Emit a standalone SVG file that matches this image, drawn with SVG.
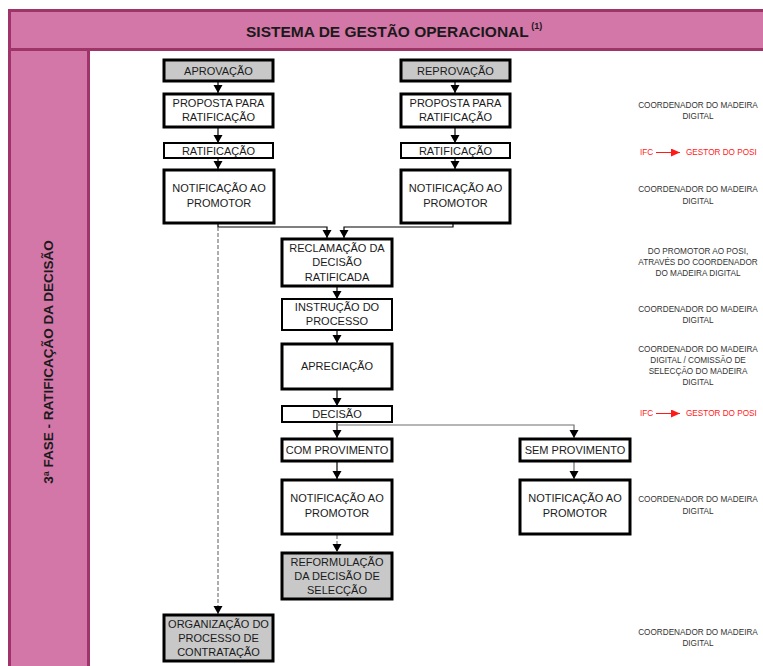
<svg xmlns="http://www.w3.org/2000/svg" width="763" height="666" viewBox="0 0 763 666">
  <style>
    .frame { fill: #D376A8; stroke: #9E3468; stroke-width: 3; }
    .box { fill: #FFFFFF; stroke: #000000; stroke-width: 3; }
    .thin { stroke-width: 2; }
    .grey { fill: #C8C8C8; }
    .lbl { font-family: "Liberation Sans", Arial, sans-serif; font-size: 11px; fill: #1A1A1A; text-anchor: middle; }
    .note { font-family: "Liberation Sans", Arial, sans-serif; font-size: 8.2px; fill: #333333; text-anchor: middle; }
    .red { font-family: "Liberation Sans", Arial, sans-serif; font-size: 8.2px; fill: #FF1A1A; }
    .title { font-family: "Liberation Sans", Arial, sans-serif; font-weight: bold; fill: #1A1A1A; }
    .wire { fill: none; stroke: #000000; stroke-width: 1.2; }
    .wire-grey { fill: none; stroke: #6E6E6E; stroke-width: 1.2; }
    .dash { fill: none; stroke: #777777; stroke-width: 1.2; stroke-dasharray: 4 2; }
  </style>
  <defs>
    <marker id="head" markerUnits="userSpaceOnUse" markerWidth="10" markerHeight="10" refX="8" refY="4.5" orient="auto">
      <path d="M0,0 L8,4.5 L0,9 Z" fill="#000000"/>
    </marker>
    <marker id="head-red" markerUnits="userSpaceOnUse" markerWidth="10" markerHeight="8" refX="9" refY="4" orient="auto">
      <path d="M0,0 L9,4 L0,8 Z" fill="#FF1A1A"/>
    </marker>
  </defs>

  <!-- background frame: header band and side column -->
  <rect x="0" y="0" width="763" height="666" fill="#FFFFFF"/>
  <rect class="frame" x="9.5" y="10.5" width="760" height="39"/>
  <rect class="frame" x="9.5" y="49.5" width="79" height="620"/>
  <text class="title" x="246" y="37" font-size="15.5">SISTEMA DE GESTÃO OPERACIONAL<tspan font-size="9" dy="-8"> (1)</tspan></text>
  <text class="title" font-size="13.5" text-anchor="middle" transform="translate(53,362) rotate(-90)">3ª FASE - RATIFICAÇÃO DA DECISÃO</text>

  <!-- connectors -->
  <g id="connectors">
    <path class="wire" d="M218,81 V93" marker-end="url(#head)"/>
    <path class="wire" d="M218,127 V143" marker-end="url(#head)"/>
    <path class="wire" d="M218,158 V169" marker-end="url(#head)"/>
    <path class="wire" d="M455,81 V93" marker-end="url(#head)"/>
    <path class="wire" d="M455,127 V143" marker-end="url(#head)"/>
    <path class="wire" d="M455,158 V169" marker-end="url(#head)"/>
    <path class="wire" d="M218,223 V227 H327 V238" marker-end="url(#head)"/>
    <path class="wire" d="M453,223 V227 H344 V238" marker-end="url(#head)"/>
    <path class="dash" d="M218,227 V614" marker-end="url(#head)"/>
    <path class="wire" d="M337,286 V299" marker-end="url(#head)"/>
    <path class="wire" d="M337,330 V343" marker-end="url(#head)"/>
    <path class="wire" d="M337,389 V406" marker-end="url(#head)"/>
    <path class="wire" d="M337,422 V438" marker-end="url(#head)"/>
    <path class="wire-grey" d="M337,425 H574 V438" marker-end="url(#head)"/>
    <path class="wire" d="M337,461 V479" marker-end="url(#head)"/>
    <path class="wire-grey" d="M574,461 V479" marker-end="url(#head)"/>
    <path class="dash" d="M337,535 V552" marker-end="url(#head)"/>
  </g>

  <!-- left branch -->
  <g id="aprovacao">
    <rect class="box grey" x="164" y="60" width="109" height="21"/>
    <text class="lbl" x="218.5" y="75">APROVAÇÃO</text>
  </g>
  <g id="proposta-a">
    <rect class="box" x="164" y="94" width="109" height="33"/>
    <text class="lbl" x="218.5" y="107">PROPOSTA PARA</text>
    <text class="lbl" x="218.5" y="121">RATIFICAÇÃO</text>
  </g>
  <g id="ratificacao-a">
    <rect class="box thin" x="164" y="143" width="109" height="15"/>
    <text class="lbl" x="218.5" y="155">RATIFICAÇÃO</text>
  </g>
  <g id="notificacao-a">
    <rect class="box" x="164" y="170" width="110" height="53"/>
    <text class="lbl" x="219" y="192">NOTIFICAÇÃO AO</text>
    <text class="lbl" x="219" y="207">PROMOTOR</text>
  </g>

  <!-- right branch -->
  <g id="reprovacao">
    <rect class="box grey" x="401" y="60" width="109" height="21"/>
    <text class="lbl" x="455.5" y="75">REPROVAÇÃO</text>
  </g>
  <g id="proposta-r">
    <rect class="box" x="401" y="94" width="109" height="33"/>
    <text class="lbl" x="455.5" y="107">PROPOSTA PARA</text>
    <text class="lbl" x="455.5" y="121">RATIFICAÇÃO</text>
  </g>
  <g id="ratificacao-r">
    <rect class="box thin" x="401" y="143" width="109" height="15"/>
    <text class="lbl" x="455.5" y="155">RATIFICAÇÃO</text>
  </g>
  <g id="notificacao-r">
    <rect class="box" x="401" y="170" width="109" height="53"/>
    <text class="lbl" x="455.5" y="192">NOTIFICAÇÃO AO</text>
    <text class="lbl" x="455.5" y="207">PROMOTOR</text>
  </g>

  <!-- central column -->
  <g id="reclamacao">
    <rect class="box" x="282" y="239" width="110" height="47"/>
    <text class="lbl" x="337" y="252">RECLAMAÇÃO DA</text>
    <text class="lbl" x="337" y="266">DECISÃO</text>
    <text class="lbl" x="337" y="281">RATIFICADA</text>
  </g>
  <g id="instrucao">
    <rect class="box thin" x="282" y="299" width="110" height="31"/>
    <text class="lbl" x="337" y="311">INSTRUÇÃO DO</text>
    <text class="lbl" x="337" y="325">PROCESSO</text>
  </g>
  <g id="apreciacao">
    <rect class="box" x="282" y="344" width="110" height="45"/>
    <text class="lbl" x="337" y="370">APRECIAÇÃO</text>
  </g>
  <g id="decisao">
    <rect class="box thin" x="282" y="406" width="110" height="16"/>
    <text class="lbl" x="337" y="418">DECISÃO</text>
  </g>
  <g id="com-provimento">
    <rect class="box" x="282" y="439" width="110" height="22"/>
    <text class="lbl" x="337" y="454">COM PROVIMENTO</text>
  </g>
  <g id="notificacao-com">
    <rect class="box" x="282" y="480" width="110" height="54"/>
    <text class="lbl" x="337" y="502">NOTIFICAÇÃO AO</text>
    <text class="lbl" x="337" y="517">PROMOTOR</text>
  </g>
  <g id="reformulacao">
    <rect class="box grey" x="282" y="553" width="110" height="46"/>
    <text class="lbl" x="337" y="566">REFORMULAÇÃO</text>
    <text class="lbl" x="337" y="580">DA DECISÃO DE</text>
    <text class="lbl" x="337" y="594">SELECÇÃO</text>
  </g>
  <g id="sem-provimento">
    <rect class="box" x="520" y="439" width="110" height="22"/>
    <text class="lbl" x="575" y="454">SEM PROVIMENTO</text>
  </g>
  <g id="notificacao-sem">
    <rect class="box" x="520" y="480" width="110" height="54"/>
    <text class="lbl" x="575" y="502">NOTIFICAÇÃO AO</text>
    <text class="lbl" x="575" y="517">PROMOTOR</text>
  </g>
  <g id="organizacao">
    <rect class="box grey" x="164" y="615" width="109" height="46"/>
    <text class="lbl" x="218.5" y="628">ORGANIZAÇÃO DO</text>
    <text class="lbl" x="218.5" y="642">PROCESSO DE</text>
    <text class="lbl" x="218.5" y="656">CONTRATAÇÃO</text>
  </g>

  <!-- responsibility notes -->
  <g id="notes">
    <text class="note" x="698" y="108">COORDENADOR DO MADEIRA</text>
    <text class="note" x="698" y="119">DIGITAL</text>

    <text class="red" x="640" y="155">IFC</text>
    <path d="M656,152.5 H680" stroke="#FF1A1A" stroke-width="1" marker-end="url(#head-red)"/>
    <text class="red" x="686" y="155">GESTOR DO POSI</text>

    <text class="note" x="698" y="192">COORDENADOR DO MADEIRA</text>
    <text class="note" x="698" y="204">DIGITAL</text>

    <text class="note" x="698" y="254">DO PROMOTOR AO POSI,</text>
    <text class="note" x="698" y="265">ATRAVÉS DO COORDENADOR</text>
    <text class="note" x="698" y="276">DO MADEIRA DIGITAL</text>

    <text class="note" x="698" y="312">COORDENADOR DO MADEIRA</text>
    <text class="note" x="698" y="323">DIGITAL</text>

    <text class="note" x="698" y="352">COORDENADOR DO MADEIRA</text>
    <text class="note" x="698" y="363">DIGITAL / COMISSÃO DE</text>
    <text class="note" x="698" y="374">SELECÇÃO DO MADEIRA</text>
    <text class="note" x="698" y="385">DIGITAL</text>

    <text class="red" x="640" y="416">IFC</text>
    <path d="M656,413.5 H680" stroke="#FF1A1A" stroke-width="1" marker-end="url(#head-red)"/>
    <text class="red" x="686" y="416">GESTOR DO POSI</text>

    <text class="note" x="698" y="502">COORDENADOR DO MADEIRA</text>
    <text class="note" x="698" y="514">DIGITAL</text>

    <text class="note" x="698" y="635">COORDENADOR DO MADEIRA</text>
    <text class="note" x="698" y="646">DIGITAL</text>
  </g>
</svg>
